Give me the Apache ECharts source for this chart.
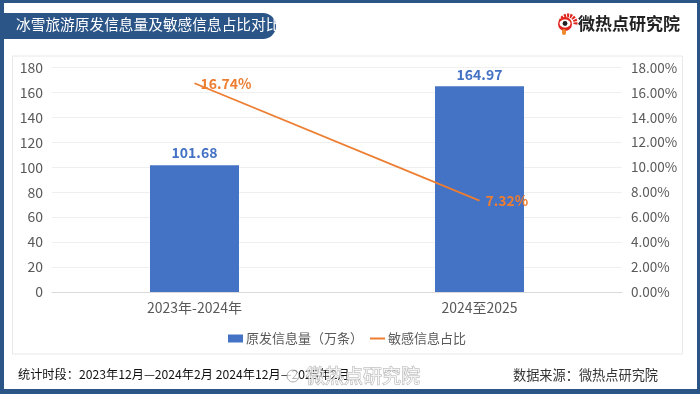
<!DOCTYPE html>
<html><head><meta charset="utf-8">
<style>html,body{margin:0;padding:0;background:#fff}#c{width:700px;height:394px}</style>
<script src="https://cdn.jsdelivr.net/npm/echarts@6/dist/echarts.min.js"></script>
</head><body><div id="c"></div>
<script>
const categories = ['2023年-2024年', '2024至2025'];
const volume = [101.68, 164.97];
const ratio = [16.74, 7.32];
const leftTicks = {min: 0, max: 180, interval: 20};
const rightTicks = {min: 0, max: 18, interval: 2};
const font = '"Noto Sans CJK SC","Noto Sans",sans-serif';
const navy = '#2b5587', blue = '#4472c4', orange = '#ed7d31', grey = '#595959';
const chart = echarts.init(document.getElementById('c'), null, {renderer: 'canvas'});
chart.setOption({
  animation: false,
  backgroundColor: '#fff',
  textStyle: {fontFamily: font},
  grid: {left: 52, right: 78, top: 67.5, bottom: 102},
  legend: {
    data: [{name: '原发信息量（万条）', icon: 'rect'}, {name: '敏感信息占比', itemStyle: {color: 'transparent', borderColor: 'transparent'}}],
    top: 332, left: 228, padding: 0, itemGap: 6, itemWidth: 15, itemHeight: 8,
    textStyle: {fontSize: 13, color: grey, fontFamily: font, padding: [0, 0, 0, -2]}
  },
  xAxis: {
    type: 'category', data: categories,
    axisLine: {lineStyle: {color: '#d9d9d9'}}, axisTick: {show: false},
    axisLabel: {fontSize: 14, color: grey, margin: 9, fontFamily: font}
  },
  yAxis: [
    {type: 'value', ...leftTicks,
     axisLine: {show: false}, axisTick: {show: false},
     splitLine: {lineStyle: {color: '#efefef'}},
     axisLabel: {fontSize: 14, color: grey, margin: 9, fontFamily: font}},
    {type: 'value', ...rightTicks,
     axisLine: {show: false}, axisTick: {show: false}, splitLine: {show: false},
     axisLabel: {fontSize: 13.5, color: grey, margin: 9, fontFamily: font,
       formatter: v => v.toFixed(2) + '%'}}
  ],
  series: [
    {name: '原发信息量（万条）', type: 'bar', data: volume, barWidth: 89,
     itemStyle: {color: blue},
     label: {show: true, position: 'top', distance: 5, color: blue, fontWeight: 'bold', fontSize: 14, fontFamily: font,
       formatter: p => p.value.toFixed(2)}},
    {name: '敏感信息占比', type: 'line', yAxisIndex: 1, data: ratio, symbol: 'circle', symbolSize: 0.01, showSymbol: true,
     lineStyle: {color: orange, width: 1.8}, itemStyle: {color: orange},
     label: {show: true, position: 'right', distance: 6, color: orange, fontWeight: 'bold', fontSize: 14, fontFamily: font,
       formatter: p => p.value.toFixed(2) + '%'}}
  ],
  graphic: [
    {type: 'rect', z: -10, shape: {x: 12.5, y: 56, width: 670, height: 298}, style: {fill: '#fff', stroke: '#e8e8e8', lineWidth: 1}},
    {type: 'rect', z: 100, shape: {x: 0, y: 0, width: 700, height: 3}, style: {fill: navy}},
    {type: 'rect', z: 100, shape: {x: 0, y: 389, width: 700, height: 5}, style: {fill: navy}},
    {type: 'rect', z: 100, shape: {x: 0, y: 0, width: 4, height: 394}, style: {fill: navy}},
    {type: 'rect', z: 100, shape: {x: 697, y: 0, width: 3, height: 394}, style: {fill: navy}},
    {type: 'rect', z: 100, shape: {x: 0, y: 13, width: 276, height: 26, r: [0, 13, 13, 0]}, style: {fill: navy}},
    {type: 'text', z: 101, x: 16, y: 17, style: {text: '冰雪旅游原发信息量及敏感信息占比对比', fill: '#fff', fontSize: 14.7, fontFamily: font}},
    {type: 'arc', z: 101, shape: {cx: 568, cy: 23, r: 7.5, startAngle: -2.9, endAngle: 0.2}, style: {stroke: '#e0241c', lineWidth: 4, lineDash: [2, 1], fill: 'none'}},
    {type: 'circle', z: 101, shape: {cx: 565, cy: 24, r: 7}, style: {fill: '#e0241c'}},
    {type: 'ellipse', z: 102, shape: {cx: 565, cy: 23.5, rx: 5.5, ry: 4}, style: {fill: '#fff'}},
    {type: 'circle', z: 103, shape: {cx: 565, cy: 23.5, r: 2.4}, style: {fill: '#222'}},
    {type: 'rect', z: 101, shape: {x: 562, y: 29, width: 4, height: 6, r: 2}, style: {fill: '#ee8a2c'}},
    {type: 'text', z: 101, x: 578, y: 15, style: {text: '微热点研究院', fill: '#222', fontSize: 17, fontWeight: 'bold', fontFamily: font}},
    {type: 'text', z: 101, x: 18, y: 368, style: {text: '统计时段：2023年12月—2024年2月 2024年12月—2025年2月', fill: '#111', fontSize: 12.2, fontFamily: font}},
    {type: 'text', z: 101, x: 513, y: 368, style: {text: '数据来源：微热点研究院', fill: '#333', fontSize: 13.2, fontFamily: font}},
    {type: 'text', z: 102, x: 306, y: 366, style: {text: '微热点研究院', fill: 'rgba(255,255,255,0.8)', stroke: 'rgba(150,150,150,0.75)', lineWidth: 1, fontSize: 19, fontFamily: font}},
    {type: 'circle', z: 102, shape: {cx: 293, cy: 376, r: 6}, style: {fill: 'rgba(255,255,255,0.7)', stroke: 'rgba(150,150,150,0.75)', lineWidth: 1}}
  ]
});
</script></body></html>
